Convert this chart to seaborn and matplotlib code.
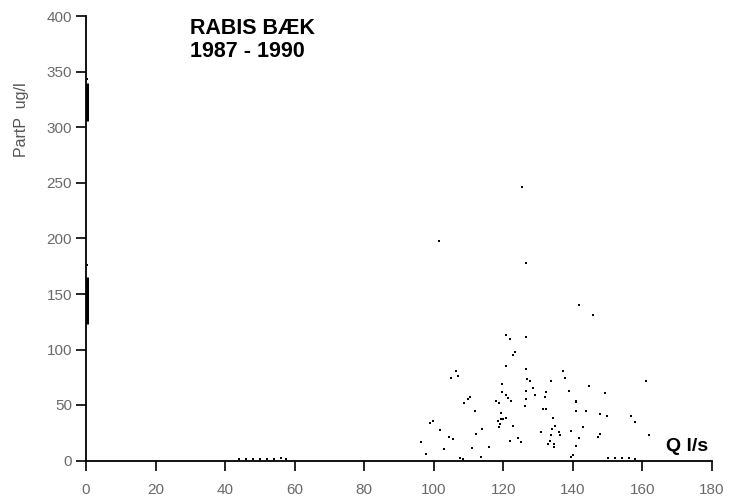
import matplotlib
matplotlib.use("Agg")
import matplotlib.pyplot as plt
import seaborn as sns
import pandas as pd

# Discharge Q (l/s) and particulate P (ug/l)
q_values = [125.3, 101.4, 126.4, 141.7, 145.7, 120.9, 121.8, 126.6, 123.3, 122.8,
            120.7, 106.4, 105.0, 107.0, 126.4, 137.2, 137.6, 133.6, 126.8, 127.8,
            119.7, 144.6, 160.9, 149.3, 139.0, 119.7, 120.7, 121.2, 122.3, 126.6,
            126.4, 126.1, 128.5, 129.0, 132.4, 131.9, 109.9, 110.3, 108.7, 118.0,
            118.8, 140.8, 141.0, 131.4, 132.4, 141.0, 143.9, 147.7, 149.8, 156.8,
            157.9, 111.8, 119.4, 118.5, 119.9, 120.7, 119.3, 118.8, 119.0, 134.3,
            134.8, 133.9, 122.8, 99.0, 99.8, 101.9, 114.0, 142.9, 130.9, 136.0,
            136.4, 133.8, 139.6, 112.1, 147.7, 161.9, 104.4, 105.6, 141.8, 147.2,
            124.2, 125.2, 121.8, 133.3, 132.8, 134.5, 134.5, 96.2, 141.0, 103.0,
            111.1, 115.9, 97.9, 140.0, 139.6, 107.5, 113.7, 108.5,
            150.0, 152.0, 154.0, 156.0, 158.0,
            44.0, 46.0, 48.0, 50.0, 52.0, 54.0, 56.0, 57.5]
p_values = [246.0, 198.0, 178.0, 140.0, 131.0, 113.0, 109.5, 111.7, 97.6, 94.6,
            85.5, 81.0, 74.5, 75.7, 82.6, 81.0, 74.5, 72.0, 73.6, 71.4,
            68.5, 66.7, 72.0, 60.5, 63.0, 61.5, 58.6, 56.0, 54.0, 62.4,
            55.6, 49.5, 65.5, 58.6, 61.5, 57.0, 55.6, 57.0, 51.6, 53.5,
            51.6, 52.5, 54.0, 46.6, 46.6, 44.4, 44.4, 42.0, 40.5, 40.5,
            35.0, 44.4, 42.6, 36.0, 37.5, 38.5, 37.0, 30.0, 33.0, 38.5,
            31.5, 28.5, 31.5, 34.2, 35.5, 27.6, 28.5, 30.0, 25.5, 25.5,
            23.4, 23.4, 26.4, 24.0, 24.0, 23.0, 21.0, 19.5, 20.0, 21.0,
            20.4, 16.5, 18.0, 18.0, 15.0, 15.0, 12.0, 17.0, 13.5, 10.5,
            11.4, 12.0, 6.0, 5.4, 3.0, 2.0, 3.0, 1.5,
            2.0, 2.0, 2.5, 2.0, 1.5,
            1.5, 1.0, 1.5, 1.0, 1.5, 1.0, 2.0, 1.5]

# Observations at Q = 0 (overprinted on the y axis)
zero_q_low = [123.0, 306.0]
zero_q_high = [165.0, 340.0]
zero_q_points = [344.0, 176.0]

x_ticks = [0, 20, 40, 60, 80, 100, 120, 140, 160, 180]
y_ticks = [0, 50, 100, 150, 200, 250, 300, 350, 400]

df = pd.DataFrame({"Q": q_values, "PartP": p_values})

sns.set_style("white")
plt.rcParams["font.family"] = ["Liberation Sans", "DejaVu Sans"]

fig = plt.figure(figsize=(7.3, 4.97), dpi=100)
ax = fig.add_axes([86 / 730, 36.5 / 497, 626 / 730, 444 / 497])

sns.scatterplot(data=df, x="Q", y="PartP", ax=ax, color="black", marker="s",
                s=3.2, linewidth=0, clip_on=False)

for lo, hi in zip(zero_q_low, zero_q_high):
    ax.plot([0.3, 0.3], [lo, hi], color="black", lw=2.2, solid_capstyle="butt",
            clip_on=False)
ax.scatter([0.4] * len(zero_q_points), zero_q_points, color="black", marker="s",
           s=2.5, linewidth=0, clip_on=False)

ax.set_xlim(0, 180)
ax.set_ylim(0, 400)
ax.set_xticks(x_ticks)
ax.set_yticks(y_ticks)
ax.set_xticklabels([str(v) for v in x_ticks])
ax.set_yticklabels([str(v) for v in y_ticks])
ax.set_xlabel("")
ax.set_ylabel("")

for side in ["top", "right"]:
    ax.spines[side].set_visible(False)
for side in ["left", "bottom"]:
    ax.spines[side].set_color("black")
    ax.spines[side].set_linewidth(1.3)

ax.tick_params(axis="x", direction="out", length=7.5, width=1.2, color="black",
               pad=9, labelsize=11, labelcolor="#6a6a6a", bottom=True)
ax.tick_params(axis="y", direction="out", length=7, width=1.2, color="black",
               pad=3, labelsize=11, labelcolor="#6a6a6a", left=True)

fig.text(190 / 730, 1 - 18 / 497, "RABIS BÆK\n1987 - 1990", ha="left", va="top",
         fontsize=15.5, fontweight="bold", color="black", linespacing=1.1)
fig.text(708 / 730, 1 - 451 / 497, "Q l/s", ha="right", va="baseline",
         fontsize=14, fontweight="bold", color="black")
fig.text(22 / 730, 1 - 120 / 497, "PartP  ug/l", ha="center", va="center",
         rotation=90, fontsize=11.5, color="#555555")

fig.savefig("out.png", dpi=100, facecolor="white")
